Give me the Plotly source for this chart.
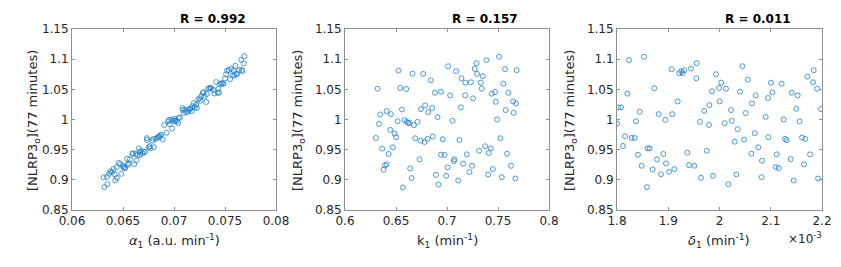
import plotly.graph_objects as go

# ---------------- data ----------------
alpha1 = [0.06310,0.06317,0.06343,0.06346,0.06365,0.06375,0.06392,0.06408,0.06421,0.06424,
          0.06437,0.06440,0.06460,0.06473,0.06483,0.06499,0.06506,0.06516,0.06522,0.06542,
          0.06548,0.06555,0.06568,0.06591,0.06597,0.06610,0.06623,0.06633,0.06643,0.06656,
          0.06662,0.06666,0.06675,0.06692,0.06702,0.06715,0.06734,0.06737,0.06754,0.06760,
          0.06767,0.06790,0.06799,0.06803,0.06822,0.06835,0.06848,0.06855,0.06865,0.06874,
          0.06888,0.06904,0.06927,0.06943,0.06950,0.06959,0.06972,0.06982,0.06989,0.07002,
          0.07008,0.07015,0.07028,0.07041,0.07047,0.07057,0.07083,0.07087,0.07096,0.07109,
          0.07119,0.07139,0.07145,0.07158,0.07165,0.07175,0.07184,0.07194,0.07204,0.07217,
          0.07224,0.07237,0.07250,0.07259,0.07269,0.07282,0.07289,0.07299,0.07315,0.07321,
          0.07335,0.07344,0.07357,0.07364,0.07387,0.07397,0.07413,0.07429,0.07436,0.07442,
          0.07452,0.07465,0.07478,0.07485,0.07501,0.07511,0.07521,0.07537,0.07550,0.07560,
          0.07573,0.07586,0.07592,0.07602,0.07609,0.07618,0.07638,0.07658,0.07664,0.07671,
          0.07684,0.07690]
nlrp_alpha = [0.904,0.888,0.905,0.893,0.910,0.914,0.913,0.918,0.909,0.899,
              0.921,0.903,0.928,0.926,0.910,0.923,0.921,0.919,0.920,0.935,
              0.925,0.927,0.934,0.943,0.944,0.926,0.943,0.932,0.941,0.952,
              0.946,0.941,0.948,0.944,0.947,0.946,0.969,0.966,0.954,0.956,
              0.952,0.965,0.968,0.954,0.968,0.970,0.971,0.971,0.973,0.975,
              0.967,0.991,0.978,0.997,0.999,0.992,1.000,0.985,0.998,1.001,
              0.998,0.998,0.997,0.994,1.003,1.003,1.019,1.016,1.011,1.016,
              1.012,1.013,1.016,1.018,1.018,1.014,1.022,1.027,1.020,1.024,
              1.019,1.033,1.035,1.031,1.039,1.044,1.045,1.038,1.029,1.042,
              1.051,1.052,1.052,1.052,1.049,1.043,1.062,1.044,1.051,1.045,
              1.059,1.060,1.060,1.059,1.068,1.075,1.081,1.082,1.067,1.084,
              1.073,1.081,1.073,1.089,1.076,1.075,1.082,1.099,1.082,1.080,
              1.093,1.105]

k1 = [0.6525,0.6662,0.6767,0.6842,0.6320,0.6542,0.6600,0.6881,0.6940,0.6786,
      0.6744,0.6855,0.6558,0.6408,0.6346,0.6450,0.6816,0.6907,0.6516,0.6584,
      0.6607,0.6620,0.6633,0.6675,0.6711,0.6333,0.6444,0.6486,0.6502,0.6303,
      0.6688,0.6741,0.6780,0.6809,0.6861,0.6959,0.6365,0.6470,0.6427,0.6940,
      0.6976,0.6731,0.6408,0.6392,0.6378,0.6639,0.6891,0.6653,0.6917,0.6568,
      0.7011,0.7090,0.7142,0.7181,0.7233,0.7289,0.7272,0.7295,0.7351,0.7387,
      0.7331,0.7341,0.7511,0.7569,0.7683,0.7553,0.7031,0.7178,0.7256,0.7439,
      0.7471,0.7602,0.7478,0.7648,0.7677,0.7135,0.7576,0.7654,0.7054,0.7491,
      0.7122,0.7524,0.7315,0.7374,0.7429,0.7409,0.7589,0.7194,0.7073,0.7067,
      0.7005,0.7158,0.7246,0.7628,0.6992,0.7220,0.7449,0.7403,0.7537,0.7670,
      0.7109]
nlrp_k1 = [1.0811,1.0761,1.0756,1.0650,1.0511,1.0522,1.0506,1.0444,1.0461,1.0233,
           1.0172,1.0194,1.0167,1.0139,1.0083,1.0089,1.0122,1.0039,0.9972,0.9989,
           0.9961,0.9944,0.9939,0.9906,0.9961,0.9928,0.9828,0.9767,0.9706,0.9694,
           0.9689,0.9650,0.9628,0.9678,0.9717,0.9672,0.9517,0.9539,0.9428,0.9417,
           0.9411,0.9339,0.9256,0.9239,0.9167,0.9189,0.9083,0.9028,0.8922,0.8872,
           1.0883,1.0800,1.0683,1.0611,1.0617,1.0933,1.0839,1.0756,1.0717,1.0983,
           1.0611,1.0511,1.1039,1.0833,1.0817,1.0594,1.0400,1.0400,1.0350,1.0428,
           1.0456,1.0444,1.0294,1.0300,1.0267,1.0200,1.0156,1.0111,0.9978,1.0000,
           0.9661,0.9689,0.9483,0.9556,0.9522,0.9444,0.9433,0.9422,0.9339,0.9311,
           0.9206,0.9267,0.9233,0.9233,0.9067,0.9128,0.9178,0.9089,0.9044,0.9022,
           0.8989]

# delta1 in units of 1e-3 min^-1
delta1_e3 = [1.8234,1.8527,1.9067,1.9216,1.9255,1.9281,1.9307,1.9444,1.9554,1.9548,
             1.9932,1.8728,1.8202,1.9854,1.9184,1.8026,1.8078,1.8442,1.9704,1.9802,
             1.8813,1.9080,1.8943,1.8371,1.9620,1.9795,1.8000,1.8156,1.8286,1.8345,
             1.8117,1.8598,1.8637,1.8410,1.8904,1.9372,1.9750,1.8780,1.8481,1.8956,
             1.9405,1.9509,1.8696,1.9119,1.8859,1.9015,1.9639,1.9873,1.8585,
             2.0446,2.0550,2.0036,1.9991,2.0127,2.1005,2.1213,2.1838,2.1714,2.1825,
             2.1903,2.0400,2.0706,2.1031,2.0947,2.1408,2.1525,2.0004,2.0634,2.0225,
             2.1499,2.1981,2.0511,2.0901,2.1252,2.0238,2.0101,2.1564,2.0355,2.0686,
             2.0953,2.0478,2.0296,2.1278,2.1311,2.1610,2.1675,2.0758,2.0621,2.1116,
             2.1766,2.0830,2.1389,2.1649,2.1096,2.1155,2.0329,2.0823,2.0173,2.1447,
             2.1922]
nlrp_delta = [1.0983,1.1039,1.0833,1.0767,1.0800,1.0767,1.0817,1.0844,1.0933,1.0683,
              1.0750,1.0517,1.0428,1.0467,1.0300,1.0200,1.0200,1.0128,1.0144,1.0239,
              1.0089,1.0089,0.9994,0.9972,0.9961,0.9911,0.9933,0.9722,0.9694,0.9694,
              0.9561,0.9522,0.9522,0.9417,0.9428,0.9450,0.9483,0.9339,0.9233,0.9272,
              0.9244,0.9233,0.9172,0.9178,0.9094,0.9133,0.9033,0.9067,0.8878,
              1.0883,1.0661,1.0611,1.0522,1.0511,1.0611,1.0594,1.0817,1.0711,1.0617,
              1.0511,1.0461,1.0400,1.0450,1.0356,1.0444,1.0400,1.0300,1.0267,1.0156,
              1.0178,1.0172,1.0106,1.0044,1.0000,0.9978,0.9939,0.9967,0.9839,0.9772,
              0.9706,0.9667,0.9633,0.9678,0.9656,0.9700,0.9678,0.9539,0.9433,0.9422,
              0.9422,0.9317,0.9344,0.9256,0.9211,0.9194,0.9089,0.9044,0.8928,0.8989,
              0.9022]

titles = ["R = 0.992", "R = 0.157", "R = 0.011"]
xlabels = ["<i>α</i><sub>1</sub> (a.u. min<sup>-1</sup>)",
           "k<sub>1</sub> (min<sup>-1</sup>)",
           "<i>δ</i><sub>1</sub> (min<sup>-1</sup>)"]
ylabel = "[NLRP3<sub>o</sub>](77 minutes)"

x1_ticks = [0.06, 0.065, 0.07, 0.075, 0.08]
x1_text = ["0.06", "0.065", "0.07", "0.075", "0.08"]
x2_ticks = [0.6, 0.65, 0.7, 0.75, 0.8]
x2_text = ["0.6", "0.65", "0.7", "0.75", "0.8"]
x3_ticks = [1.8, 1.9, 2.0, 2.1, 2.2]
x3_text = ["1.8", "1.9", "2", "2.1", "2.2"]
y_ticks = [0.85, 0.9, 0.95, 1.0, 1.05, 1.1, 1.15]
y_text = ["0.85", "0.9", "0.95", "1", "1.05", "1.1", "1.15"]

# ---------------- figure ----------------
W, H = 841, 267
ML, MR, MT, MB = 64, 27, 21, 65
PW = W - ML - MR
PH = H - MT - MB

def px(x):
    return (x - ML) / PW

def py(y):
    return (MT + PH - y) / PH

BLUE = "#1f7fc6"
TXT = "#262626"
AX = "#8f8f8f"
FONT = "DejaVu Sans"

fig = go.Figure()
series = [(alpha1, nlrp_alpha), (k1, nlrp_k1), (delta1_e3, nlrp_delta)]
for i, (xs, ys) in enumerate(series):
    suf = "" if i == 0 else str(i + 1)
    fig.add_trace(go.Scatter(
        x=xs, y=ys, mode="markers", xaxis="x" + suf, yaxis="y" + suf,
        marker=dict(symbol="circle-open", size=5, color=BLUE, line=dict(width=0.8, color=BLUE)),
        showlegend=False, hoverinfo="skip"))

doms = [(64, 268), (337, 541), (609, 814)]
xranges = [(0.06, 0.08), (0.6, 0.8), (1.8, 2.2)]
xticks = [(x1_ticks, x1_text), (x2_ticks, x2_text), (x3_ticks, x3_text)]

axis_common = dict(showline=True, linecolor=AX, linewidth=1, mirror="ticks",
                   ticks="inside", ticklen=3, tickcolor=AX, showgrid=False,
                   zeroline=False, tickfont=dict(family=FONT, size=12, color=TXT))

layout = dict(width=W, height=H, margin=dict(l=ML, r=MR, t=MT, b=MB),
              paper_bgcolor="white", plot_bgcolor="white",
              font=dict(family=FONT, color=TXT))
for i in range(3):
    suf = "" if i == 0 else str(i + 1)
    layout["xaxis" + suf] = dict(domain=[px(doms[i][0]), px(doms[i][1])],
                                 range=list(xranges[i]), anchor="y" + suf,
                                 tickvals=xticks[i][0], ticktext=xticks[i][1],
                                 **axis_common)
    layout["yaxis" + suf] = dict(domain=[0, 1], range=[0.85, 1.15], anchor="x" + suf,
                                 tickvals=y_ticks, ticktext=y_text, **axis_common)
fig.update_layout(**layout)

title_x = [205, 477, 750]
ylab_x = [25, 290, 562]
xlab_x = [166, 439, 711]
ann = []
for i in range(3):
    ann.append(dict(text="<b>" + titles[i] + "</b>", x=px(title_x[i]), y=py(11),
                    xref="paper", yref="paper", showarrow=False,
                    font=dict(family=FONT, size=12, color="black"),
                    xanchor="center", yanchor="middle"))
    ann.append(dict(text=ylabel, x=px(ylab_x[i]), y=py(113), xref="paper", yref="paper",
                    showarrow=False, textangle=-90,
                    font=dict(family=FONT, size=13, color=TXT),
                    xanchor="center", yanchor="middle"))
    ann.append(dict(text=xlabels[i], x=px(xlab_x[i]), y=py(233), xref="paper", yref="paper",
                    showarrow=False, font=dict(family=FONT, size=13, color=TXT),
                    xanchor="center", yanchor="middle"))
ann.append(dict(text="×10<sup>-3</sup>", x=px(797), y=py(230), xref="paper", yref="paper",
                showarrow=False, font=dict(family=FONT, size=12, color=TXT),
                xanchor="center", yanchor="middle"))
fig.update_layout(annotations=ann)

fig.write_html("out.html")
